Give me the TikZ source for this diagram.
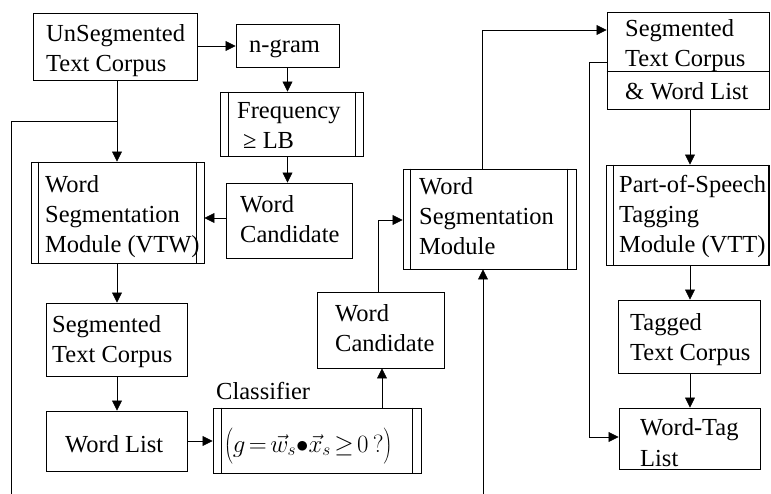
\documentclass[tikz,border=0pt]{standalone}
\usepackage{fontspec}
\setmainfont{Liberation Serif}
\usetikzlibrary{arrows.meta,calc}
\begin{document}
\begin{tikzpicture}[x=1pt,y=-1pt,
  box/.style={draw,line width=0.9pt,rectangle,inner sep=0pt},
  txt/.style={anchor=base west,inner sep=0pt,align=left,font=\fontsize{24.5}{30}\selectfont},
  conn/.style={line width=0.7pt,-{Triangle[length=10pt,width=10pt]}},
  plain/.style={line width=0.7pt}]
\useasboundingbox (0,0) rectangle (771,494);
% boxes
\node[box,minimum width=164pt,minimum height=67pt] (us) at (115,46.5) {};
\node[box,minimum width=103pt,minimum height=43pt] (ng) at (287.5,45.5) {};
\node[box,minimum width=143pt,minimum height=64pt] (fq) at (291.5,124) {};
\node[box,minimum width=173pt,minimum height=101pt] (wsmA) at (117.5,212.5) {};
\node[box,minimum width=126pt,minimum height=75pt] (wcA) at (289,220.5) {};
\node[box,minimum width=141pt,minimum height=73pt] (scA) at (116.5,339.5) {};
\node[box,minimum width=141pt,minimum height=60pt] (wl) at (116.5,441) {};
\node[box,minimum width=208pt,minimum height=65pt] (cl) at (317,440.5) {};
\node[box,minimum width=127pt,minimum height=76pt] (wcB) at (380.5,330) {};
\node[box,minimum width=173pt,minimum height=100pt] (wsmB) at (489.5,219) {};
\node[box,minimum width=162pt,minimum height=97pt] (sw) at (688,60.5) {};
\node[box,minimum width=163pt,minimum height=100pt] (pos) at (688,215) {};
\node[box,minimum width=142pt,minimum height=73pt] (tg) at (689,336.5) {};
\node[box,minimum width=141pt,minimum height=61pt] (wt) at (689.5,438.5) {};
% inner border lines (predefined process)
\foreach \n/\a/\b in {fq/9/8, wsmA/8/8, cl/9/9, wsmB/8/9, pos/7/2}{
  \draw[line width=0.9pt] ([xshift=\a pt]\n.north west) -- ([xshift=\a pt]\n.south west);
  \draw[line width=0.9pt] ([xshift=-\b pt]\n.north east) -- ([xshift=-\b pt]\n.south east);
}
\draw[line width=0.9pt] (sw.west |- 0,71) -- (sw.east |- 0,71);
% texts (anchor = baseline of the last line)
\node[txt] (tus) at (46,72) {UnSegmented\\Text Corpus};
\node[txt] (tng) at (249,53) {n-gram};
\node[txt] (tfq) at (237,149) {Frequency\\\hspace{6pt}≥ LB};
\node[txt] (twsmA) at (45,253) {Word\\Segmentation\\Module (VTW)};
\node[txt] (twcA) at (240,243) {Word\\Candidate};
\node[txt] (tscA) at (52,362) {Segmented\\Text Corpus};
\node[txt] (twl) at (65,452) {Word List};
\node[txt] (tcl) at (216,399) {Classifier};
\node[txt,font=\fontsize{24.5}{29}\selectfont] (tfor) at (224,452) {$\thickmuskip=2.5mu\left(\rule[-9pt]{0pt}{33pt}g=\vec{w}_s{\bullet}\vec{x}_s\geq 0\,?\right)$};
\node[txt] (twcB) at (335,352) {Word\\Candidate};
\node[txt] (twsmB) at (419,255) {Word\\Segmentation\\Module};
\node[txt] (tswA) at (625,67) {Segmented\\Text Corpus};
\node[txt] (tswB) at (625,100) {\& Word List};
\node[txt] (tpos) at (619,253) {Part-of-Speech\\Tagging\\Module (VTT)};
\node[txt] (ttg) at (630,360) {Tagged\\Text Corpus};
\node[txt,font=\fontsize{24.5}{31}\selectfont] (twt) at (640,466) {Word-Tag\\List};
% helper coordinates
\coordinate (jA) at (117,121);
\coordinate (lA) at (11,121);
\coordinate (lB) at (11,494);
\coordinate (top) at (482,30);
\coordinate (rA) at (589,62);
\coordinate (rB) at (589,437);
\coordinate (bot) at (483,494);
\coordinate (mid) at (378,220);
% connectors
\draw[conn] (us.east |- 0,46) -- (ng.west |- 0,46);
\draw[conn] (ng.south) -- (ng.south |- fq.north);
\draw[conn] (ng.south |- fq.south) -- (ng.south |- wcA.north);
\draw[conn] (wcA.west |- 0,218) -- (wsmA.east |- 0,218);
\draw[conn] (us.south -| jA) -- (wsmA.north -| jA);
\draw[plain] (jA) -- (lA) -- (lB);
\draw[conn] (wsmA.south -| jA) -- (scA.north -| jA);
\draw[conn] (scA.south -| jA) -- (wl.north -| jA);
\draw[conn] (wl.east |- 0,441) -- (cl.west |- 0,441);
\draw[conn] (cl.north -| 382,0) -- (wcB.south -| 382,0);
\draw[conn] (wcB.north -| mid) -- (mid) -- (wsmB.west |- mid);
\draw[conn] (wsmB.north -| top) -- (top) -- (sw.west |- top);
\draw[conn] (sw.west |- rA) -- (rA) -- (rB) -- (wt.west |- rB);
\draw[conn] (sw.south -| 690,0) -- (pos.north -| 690,0);
\draw[conn] (pos.south -| 690,0) -- (tg.north -| 690,0);
\draw[conn] (tg.south -| 690,0) -- (wt.north -| 690,0);
\draw[conn] (bot) -- (wsmB.south -| bot);
\end{tikzpicture}
\end{document}
